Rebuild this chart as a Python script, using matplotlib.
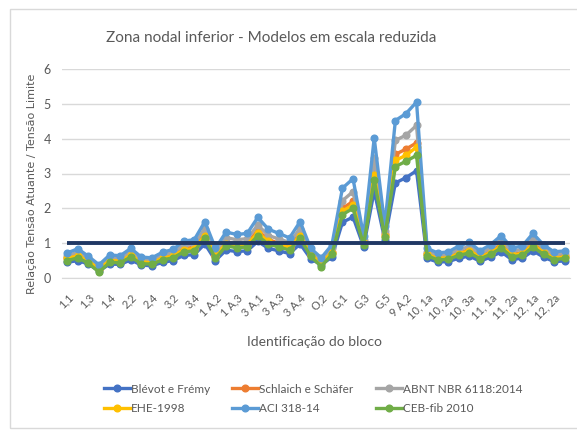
import numpy as np
import matplotlib.pyplot as plt
from matplotlib.patches import Rectangle

# block labels shown on the axis (every other point is labelled)
tick_labels = ["1,1", "1,3", "1,4", "2,2", "2,4", "3,2", "3,4", "1 A,2", "1 A,3", "3 A,1",
               "3 A,3", "3 A,4", "O,2", "G,1", "G,3", "G,5", "9 A,2", "10, 1a", "10, 2a",
               "10, 3a", "11, 1a", "11, 2a", "12, 1a", "12, 2a"]
n_points = 48

blevot = [0.45, 0.50, 0.40, 0.20, 0.40, 0.39, 0.52, 0.37, 0.35, 0.45, 0.50, 0.65, 0.67, 0.98, 0.50, 0.80,
          0.76, 0.78, 1.05, 0.85, 0.78, 0.70, 0.98, 0.55, 0.38, 0.60, 1.60, 1.75, 0.90, 2.50, 1.10, 2.73,
          2.88, 3.08, 0.56, 0.46, 0.47, 0.57, 0.63, 0.48, 0.60, 0.75, 0.53, 0.57, 0.78, 0.60, 0.47, 0.49]
schlaich = [0.58, 0.66, 0.50, 0.27, 0.52, 0.51, 0.68, 0.48, 0.46, 0.59, 0.66, 0.85, 0.88, 1.28, 0.66, 1.04,
            0.98, 1.01, 1.36, 1.10, 1.00, 0.91, 1.28, 0.68, 0.45, 0.76, 2.00, 2.20, 1.02, 3.05, 1.25, 3.55,
            3.70, 3.88, 0.70, 0.58, 0.60, 0.73, 0.81, 0.62, 0.76, 0.96, 0.68, 0.73, 1.00, 0.76, 0.60, 0.62]
abnt = [0.64, 0.74, 0.56, 0.30, 0.58, 0.57, 0.76, 0.53, 0.52, 0.66, 0.74, 0.94, 0.98, 1.42, 0.74, 1.16,
        1.10, 1.13, 1.52, 1.22, 1.12, 1.02, 1.42, 0.76, 0.50, 0.85, 2.22, 2.48, 1.10, 3.45, 1.35, 3.95,
        4.10, 4.38, 0.76, 0.64, 0.67, 0.82, 0.90, 0.70, 0.85, 1.08, 0.77, 0.82, 1.12, 0.85, 0.67, 0.70]
ehe = [0.56, 0.64, 0.48, 0.25, 0.50, 0.49, 0.65, 0.46, 0.44, 0.57, 0.63, 0.81, 0.84, 1.22, 0.63, 0.99,
       0.94, 0.96, 1.30, 1.05, 0.96, 0.87, 1.22, 0.66, 0.43, 0.73, 1.92, 2.10, 1.00, 2.95, 1.22, 3.38,
       3.52, 3.76, 0.68, 0.56, 0.58, 0.70, 0.78, 0.60, 0.73, 0.92, 0.66, 0.70, 0.96, 0.73, 0.57, 0.60]
aci = [0.72, 0.84, 0.62, 0.38, 0.66, 0.64, 0.85, 0.60, 0.58, 0.74, 0.82, 1.06, 1.10, 1.62, 0.85, 1.32,
       1.25, 1.28, 1.74, 1.40, 1.28, 1.15, 1.62, 0.85, 0.58, 0.95, 2.58, 2.85, 1.20, 4.02, 1.50, 4.52,
       4.72, 5.05, 0.85, 0.72, 0.75, 0.92, 1.02, 0.78, 0.96, 1.22, 0.86, 0.92, 1.28, 0.95, 0.75, 0.78]
ceb = [0.50, 0.58, 0.42, 0.17, 0.45, 0.44, 0.60, 0.41, 0.40, 0.52, 0.58, 0.75, 0.78, 1.14, 0.56, 0.92,
       0.87, 0.89, 1.21, 0.97, 0.89, 0.80, 1.14, 0.62, 0.33, 0.68, 1.82, 2.00, 0.95, 2.82, 1.18, 3.20,
       3.35, 3.52, 0.64, 0.52, 0.54, 0.65, 0.72, 0.55, 0.68, 0.86, 0.61, 0.65, 0.89, 0.68, 0.53, 0.56]
limit = [1.0] * n_points

series = [("Blévot e Frémy", blevot, "#4472C4"),
          ("Schlaich e Schäfer", schlaich, "#ED7D31"),
          ("ABNT NBR 6118:2014", abnt, "#A5A5A5"),
          ("EHE-1998", ehe, "#FFC000"),
          ("ACI 318-14", aci, "#5B9BD5"),
          ("CEB-fib 2010", ceb, "#70AD47")]

plt.rcParams['font.family'] = ['Lato', 'DejaVu Sans']
grey_txt = '#595959'

fig = plt.figure(figsize=(5.77, 4.30), dpi=100)
fig.patches.append(Rectangle((10 / 577, 0.005), 0.99, 0.975, transform=fig.transFigure,
                             fill=False, edgecolor='#D9D9D9', lw=1))
ax = fig.add_axes([62 / 577, 1 - 278 / 430, (570 - 62) / 577, (278 - 69) / 430])

x = np.arange(n_points)
handles = []
for name, vals, col in series:
    h, = ax.plot(x, vals, '-o', color=col, lw=2.4, markersize=4.8, label=name)
    handles.append(h)
ax.plot(x, limit, color='#203864', lw=2.8, solid_capstyle='butt')

ax.set_xlim(-0.5, n_points - 0.5)
ax.set_ylim(0, 6)
ax.set_yticks(range(7))
ax.grid(axis='y', color='#D9D9D9', lw=1)
ax.set_axisbelow(True)
for s in ['top', 'right', 'left']:
    ax.spines[s].set_visible(False)
ax.spines['bottom'].set_color('#D9D9D9')
ax.tick_params(axis='y', length=0, labelsize=9, labelcolor=grey_txt, pad=8)
ax.tick_params(axis='x', length=0, labelsize=8, labelcolor=grey_txt, pad=10)
ax.set_xticks(x[::2])
ax.set_xticklabels(tick_labels, rotation=45, ha='right', va='top', rotation_mode='anchor')

ax.set_ylabel("Relação Tensão Atuante / Tensão Limite", fontsize=8, color=grey_txt,
              family='DejaVu Sans')
ax.yaxis.set_label_coords(-0.05, 0.45)
fig.text(315 / 577, 1 - 342 / 430, "Identificação do bloco", ha='center', va='center',
         fontsize=10, color=grey_txt)
fig.text(271 / 577, 1 - 38 / 430, "Zona nodal inferior - Modelos em escala reduzida",
         ha='center', va='center', fontsize=11, color=grey_txt)

# legend is filled row by row in the reference
order = [0, 3, 1, 4, 2, 5]
fig.legend(handles=[handles[i] for i in order], ncol=3, loc='upper left',
           bbox_to_anchor=(93 / 577, 1 - 373 / 430),
           frameon=False, fontsize=8.5, labelcolor=grey_txt, handlelength=2.2, handletextpad=0.1,
           columnspacing=1.9, labelspacing=0.75)

fig.savefig('out.png', dpi=100)
